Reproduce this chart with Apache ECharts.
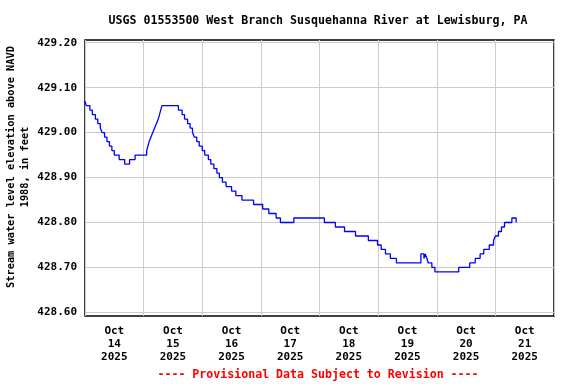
<!DOCTYPE html>
<html>
<head>
<meta charset="utf-8">
<script src="https://cdn.jsdelivr.net/npm/echarts@6/dist/echarts.min.js"></script>
<style>html,body{margin:0;padding:0;background:#fff;}#c{width:576px;height:384px;}</style>
</head>
<body>
<div id="c"></div>
<script>
const dayLabels = ['Oct\n14\n2025','Oct\n15\n2025','Oct\n16\n2025','Oct\n17\n2025','Oct\n18\n2025','Oct\n19\n2025','Oct\n20\n2025','Oct\n21\n2025'];
const yTicks = [428.6, 428.7, 428.8, 428.9, 429.0, 429.1, 429.2];
// hours since Oct 14 2025 00:00
const hours = [0,0.5,2,3,4.25,5.25,6.25,7,8,9,10,11,12,14,16.25,18.25,20.5,25.25,25.75,26.25,27,27.75,28.5,29.25,30,30.5,31,31.5,38.25,39.75,40.75,42,43,44,44.75,45.75,46.75,48,49,50.5,51.5,52.75,54,55,56.25,57.75,60,61.75,64.25,69,72.75,75.25,78.25,80,85.5,98,102.5,106.25,110.75,116,119.75,121.25,123,125,127.5,137.5,138.75,139.25,140,140.5,142,143.25,153,157.5,159.75,161.75,163.25,165.5,167.25,168,169.25,170.5,171.75,174.75,176.5,176.75];
const levels = [429.07,429.06,429.05,429.04,429.03,429.02,429.01,429.00,428.99,428.98,428.97,428.96,428.95,428.94,428.93,428.94,428.95,428.96,428.97,428.98,428.99,429.00,429.01,429.02,429.03,429.04,429.05,429.06,429.05,429.04,429.03,429.02,429.01,429.00,428.99,428.98,428.97,428.96,428.95,428.94,428.93,428.92,428.91,428.90,428.89,428.88,428.87,428.86,428.85,428.84,428.83,428.82,428.81,428.80,428.81,428.80,428.79,428.78,428.77,428.76,428.75,428.74,428.73,428.72,428.71,428.73,428.72,428.73,428.72,428.71,428.70,428.69,428.70,428.71,428.72,428.73,428.74,428.75,428.76,428.77,428.78,428.79,428.80,428.81,428.80,428.80];

const FONT = '"DejaVu Sans Mono", monospace';
const chart = echarts.init(document.getElementById('c'));
chart.setOption({
  animation: false,
  backgroundColor: '#ffffff',
  title: [{
    text: 'USGS 01553500 West Branch Susquehanna River at Lewisburg, PA',
    left: 313, top: 10, textAlign: 'center',
    textStyle: {fontFamily: FONT, fontSize: 11.6, fontWeight: 'bold', color: '#000'}
  }, {
    text: '---- Provisional Data Subject to Revision ----',
    left: 313, top: 364, textAlign: 'center',
    textStyle: {fontFamily: FONT, fontSize: 11.6, fontWeight: 'bold', color: '#ff0000'}
  }],
  grid: {left: 85, right: 22, top: 40, bottom: 68, show: true, borderColor: '#000', borderWidth: 1.5, containLabel: false, outerBoundsMode: 'none'},
  xAxis: [{
    type: 'category', data: dayLabels, boundaryGap: true, position: 'bottom',
    axisLine: {show: false}, axisTick: {show: false},
    splitLine: {show: true, lineStyle: {color: '#cccccc', width: 1}},
    axisLabel: {fontFamily: FONT, fontSize: 11, fontWeight: 'bold', color: '#000', lineHeight: 12.7, margin: 9, interval: 0}
  }, {
    type: 'value', min: 0, max: 192, show: false
  }],
  yAxis: [{
    type: 'value', min: 428.592, max: 429.206,
    axisLine: {show: false},
    axisTick: {show: false, customValues: yTicks},
    splitLine: {show: true, lineStyle: {color: '#cccccc', width: 1}},
    axisLabel: {customValues: yTicks, formatter: v => v.toFixed(2), fontFamily: FONT, fontSize: 11, fontWeight: 'bold', color: '#000', margin: 8},
    name: 'Stream water level elevation above NAVD\n1988, in feet',
    nameLocation: 'middle', nameGap: 52, nameRotate: 90, nameMoveOverlap: false,
    nameTextStyle: {fontFamily: FONT, fontSize: 10.3, fontWeight: 'bold', color: '#000', lineHeight: 14.5, align: 'center', padding: [0, 0, 0, 22]}
  }],
  series: [{
    type: 'line', xAxisIndex: 1, yAxisIndex: 0, step: 'end', symbol: 'none',
    lineStyle: {color: '#0000ff', width: 1.3},
    data: hours.map((h, i) => [h, levels[i]])
  }]
});
</script>
</body>
</html>
